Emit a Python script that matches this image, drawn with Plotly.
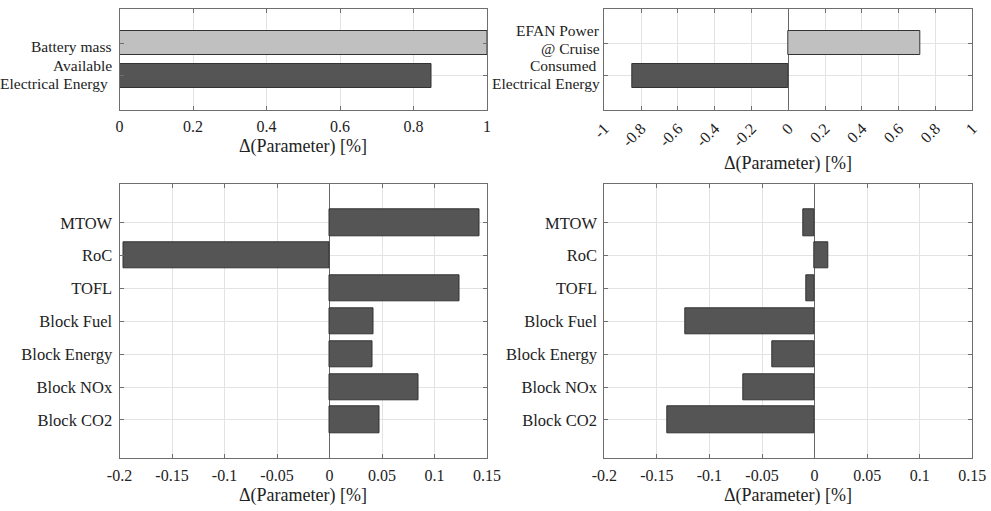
import plotly.graph_objects as go

# ---------------- data ----------------
tl_cats = ["Available<br>Electrical Energy\u00a0", "Battery mass"]          # bottom -> top
tl_vals = [0.85, 1.0]
tl_cols = ["#555555", "#c0c0c0"]

tr_cats = ["Consumed\u00a0<br>Electrical Energy", "EFAN Power<br>@ Cruise"]  # bottom -> top
tr_vals = [-0.85, 0.72]
tr_cols = ["#555555", "#c0c0c0"]

params = ["MTOW", "RoC", "TOFL", "Block Fuel", "Block Energy", "Block NOx", "Block CO2"]
bl_vals = [0.143, -0.196, 0.124, 0.042, 0.041, 0.085, 0.048]
br_vals = [-0.011, 0.0135, -0.008, -0.123, -0.040, -0.068, -0.140]

tl_ticks = [0, 0.2, 0.4, 0.6, 0.8, 1]
tl_text = ["0", "0.2", "0.4", "0.6", "0.8", "1"]
tr_ticks = [-1, -0.8, -0.6, -0.4, -0.2, 0, 0.2, 0.4, 0.6, 0.8, 1]
tr_text = ["-1", "-0.8", "-0.6", "-0.4", "-0.2", "0", "0.2", "0.4", "0.6", "0.8", "1"]
b_ticks = [-0.2, -0.15, -0.1, -0.05, 0, 0.05, 0.1, 0.15]
b_text = ["-0.2", "-0.15", "-0.1", "-0.05", "0", "0.05", "0.1", "0.15"]
xtitle = "\u0394(Parameter) [%]"

# ---------------- style ----------------
W, H = 991, 511
FONT = "Liberation Serif"
DARK = "#555555"
EDGE = "#333333"
GRID = "#e3e3e3"
AXC = "#6e6e6e"
TXT = "#222222"
# small vertical nudges (px, positive = up) of the top panels' label blocks
tl_nudge = [1, -3]
tr_nudge = [1, 4]

fig = go.Figure()

def px_x(a, b):
    return [a / W, b / W]

def px_y(top, bot):
    return [1 - bot / H, 1 - top / H]

bottom_order = params[::-1]

fig.add_trace(go.Bar(y=tl_cats, x=tl_vals, orientation="h", width=0.75,
                     marker=dict(color=tl_cols, line=dict(color=EDGE, width=1)),
                     xaxis="x", yaxis="y", showlegend=False))
fig.add_trace(go.Bar(y=tr_cats, x=tr_vals, orientation="h", width=0.75,
                     marker=dict(color=tr_cols, line=dict(color=EDGE, width=1)),
                     xaxis="x2", yaxis="y2", showlegend=False))
fig.add_trace(go.Bar(y=params, x=bl_vals, orientation="h", width=0.8,
                     marker=dict(color=DARK, line=dict(color=EDGE, width=1)),
                     xaxis="x3", yaxis="y3", showlegend=False))
fig.add_trace(go.Bar(y=params, x=br_vals, orientation="h", width=0.8,
                     marker=dict(color=DARK, line=dict(color=EDGE, width=1)),
                     xaxis="x4", yaxis="y4", showlegend=False))

def xax(domain, anchor, rng, tv, tt, angle=0, zl=True):
    return dict(domain=domain, anchor=anchor, range=rng, tickvals=tv, ticktext=tt,
                tickangle=angle, showgrid=True, gridcolor=GRID, gridwidth=1,
                zeroline=zl, zerolinecolor="#666666", zerolinewidth=1,
                showline=True, linecolor=AXC, linewidth=1, mirror="ticks",
                ticks="inside", ticklen=4, tickcolor=AXC,
                tickfont=dict(family=FONT, size=16, color=TXT),
                ticklabelstandoff=2, automargin=False, fixedrange=True)

def yax(domain, anchor, rng, cats, labels=True):
    return dict(domain=domain, anchor=anchor, range=rng, type="category",
                categoryorder="array", categoryarray=cats,
                showgrid=True, gridcolor=GRID, gridwidth=1, zeroline=False,
                showline=True, linecolor=AXC, linewidth=1, mirror="ticks",
                ticks="inside", ticklen=4, tickcolor=AXC, showticklabels=labels,
                tickfont=dict(family=FONT, size=16.5, color=TXT),
                ticklabelstandoff=3, automargin=False, fixedrange=True)

top_y = px_y(9, 110)
bot_y = px_y(184.3, 458.3)
left_x = px_x(119.5, 487)
right_x = px_x(604.3, 972.3)

fig.update_layout(
    width=W, height=H, autosize=False,
    margin=dict(l=0, r=0, t=0, b=0),
    paper_bgcolor="white", plot_bgcolor="white",
    bargap=0,
    font=dict(family=FONT, size=16, color=TXT),
    xaxis=xax(left_x, "y", [0, 1], tl_ticks, tl_text, zl=False),
    yaxis=yax(top_y, "x", [-1.07, 2.07], tl_cats, labels=False),
    xaxis2=xax(right_x, "y2", [-1, 1], tr_ticks, tr_text, angle=-45),
    yaxis2=yax(top_y, "x2", [-1.07, 2.07], tr_cats, labels=False),
    xaxis3=xax(left_x, "y3", [-0.2, 0.15], b_ticks, b_text),
    yaxis3=yax(bot_y, "x3", [-1.17, 7.17], bottom_order),
    xaxis4=xax(right_x, "y4", [-0.2, 0.15], b_ticks, b_text),
    yaxis4=yax(bot_y, "x4", [-1.17, 7.17], bottom_order),
)

anns = []

def title_ann(xd, ypx):
    return dict(text=xtitle, xref="paper", yref="paper",
                x=(xd[0] + xd[1]) / 2, y=1 - ypx / H,
                xanchor="center", yanchor="middle", showarrow=False,
                font=dict(family=FONT, size=18, color=TXT))

anns += [title_ann(left_x, 146.7), title_ann(right_x, 163),
         title_ann(left_x, 495.7), title_ann(right_x, 495.7)]

# two-line category labels of the top panels, set line by line (tight leading)
def cat_labels(cats, nudges, yref, xpaper, step=17.5):
    out = []
    for cat, nd in zip(cats, nudges):
        lines = cat.split("<br>")
        n = len(lines)
        for i, ln in enumerate(lines):
            out.append(dict(text=ln, xref="paper", yref=yref, x=xpaper, y=cat,
                            yshift=((n - 1) / 2 - i) * step + nd, xanchor="right",
                            yanchor="middle", showarrow=False,
                            font=dict(family=FONT, size=15.5, color=TXT)))
    return out

anns += cat_labels(tl_cats, tl_nudge, "y", 114 / W)
anns += cat_labels(tr_cats, tr_nudge, "y2", 602 / W)

fig.update_layout(annotations=anns)

fig.write_html("out.html")
